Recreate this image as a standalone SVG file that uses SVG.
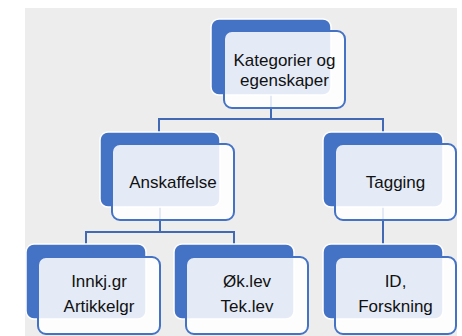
<svg xmlns="http://www.w3.org/2000/svg" width="462" height="336" viewBox="0 0 462 336">
<style>
.bg{fill:#EDEDED}
.back{fill:#4472C4;stroke:#FFFFFF;stroke-width:1.5}
.front{fill:#FFFFFF;fill-opacity:0.86;stroke:#4472C4;stroke-width:2}
.conn{fill:none;stroke:#4169B4;stroke-width:2}
text{font-family:"Liberation Sans",Arial,sans-serif;font-size:17px;fill:#111111;text-anchor:middle}
</style>
<rect class="bg" x="25" y="8" width="432" height="328"/>
<g id="connectors">
<path class="conn" d="M271,95 V119 M159,132 V119 H383 V132"/>
<path class="conn" d="M160,207 V232 M86,244 V232 H234 V244"/>
<path class="conn" d="M383,207 V244"/>
</g>
<g id="node-kategorier">
<rect class="back" x="211" y="19" width="120" height="76" rx="8"/>
<rect class="front" x="224" y="31" width="121" height="77" rx="8"/>
<text x="284.5" y="66">Kategorier og</text>
<text x="284.5" y="86">egenskaper</text>
</g>
<g id="node-anskaffelse">
<rect class="back" x="100" y="132" width="120" height="75" rx="8"/>
<rect class="front" x="112" y="144" width="122" height="76" rx="8"/>
<text x="173" y="188">Anskaffelse</text>
</g>
<g id="node-tagging">
<rect class="back" x="323" y="132" width="120" height="75" rx="8"/>
<rect class="front" x="335" y="144" width="121" height="76" rx="8"/>
<text x="395.5" y="188">Tagging</text>
</g>
<g id="node-innkj">
<rect class="back" x="26" y="244" width="120" height="75" rx="8"/>
<rect class="front" x="38" y="257" width="122" height="77" rx="8"/>
<text x="99" y="287">Innkj.gr</text>
<text x="99" y="312">Artikkelgr</text>
</g>
<g id="node-oklev">
<rect class="back" x="174" y="244" width="120" height="75" rx="8"/>
<rect class="front" x="186" y="257" width="122" height="77" rx="8"/>
<text x="247" y="287">Øk.lev</text>
<text x="247" y="312">Tek.lev</text>
</g>
<g id="node-id">
<rect class="back" x="323" y="244" width="120" height="75" rx="8"/>
<rect class="front" x="335" y="257" width="121" height="77" rx="8"/>
<text x="395.5" y="287">ID,</text>
<text x="395.5" y="312">Forskning</text>
</g>
</svg>
